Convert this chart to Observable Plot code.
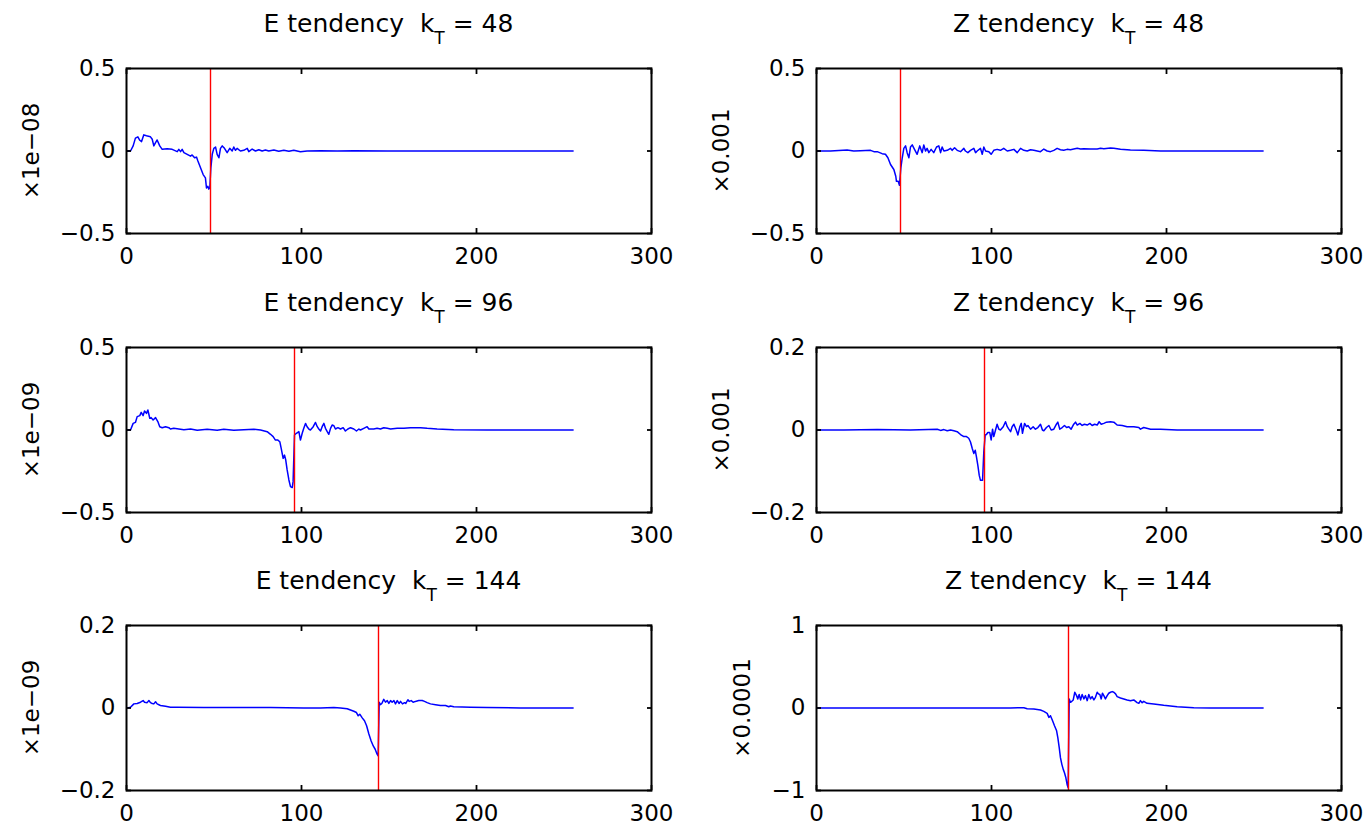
<!DOCTYPE html>
<html><head><meta charset="utf-8">
<script src="https://cdn.jsdelivr.net/npm/d3@7"></script>
<script src="https://cdn.jsdelivr.net/npm/@observablehq/plot@0.6"></script>
<style>
body{margin:0;background:#fff;}
#wrap{position:relative;width:1369px;height:830px;overflow:hidden;background:#fff;}
.panel{position:absolute;}
.panel svg{display:block;max-width:none;}
</style></head><body><div id="wrap"></div>
<script>
// ---- data (k, tendency in axis units) ----
const kTs = [48, 96, 144];
const quantities = ["E", "Z"];
const xDomain = [0, 300];
const xTicks = [0, 100, 200, 300];
const yLabelsE = ["×1e−08", "×1e−09", "×1e−09"];
const yLabelsZ = ["×0.001", "×0.001", "×0.0001"];
const yDomainsE = [[-0.5, 0.5], [-0.5, 0.5], [-0.2, 0.2]];
const yDomainsZ = [[-0.5, 0.5], [-0.2, 0.2], [-1, 1]];
const yTicksE = [[-0.5, 0, 0.5], [-0.5, 0, 0.5], [-0.2, 0, 0.2]];
const yTicksZ = [[-0.5, 0, 0.5], [-0.2, 0, 0.2], [-1, 0, 1]];

const e48 = [[0.5,0],[2.3,0],[3.8,.031],[5.1,.078],[6.5,.086],[7.6,.065],[8.6,.057],[9.9,.098],[11.4,.092],[13.7,.086],[14.7,.071],[15.6,.031],[16.6,.051],[17.5,.067],[19,.031],[20.4,.010],[23.2,.014],[26.1,.010],[29,-.004],[29.9,.010],[30.9,-.004],[31.8,.010],[32.8,-.010],[34.7,-.020],[36.6,-.031],[37.5,-.024],[38.9,-.041],[40,-.037],[40.8,-.061],[42.3,-.102],[43.8,-.143],[45.1,-.163],[45.7,-.224],[46.5,-.214],[47,-.231],[47.6,-.224],[48.2,-.102],[49,-.020],[49.9,.016],[50.9,.024],[51.8,-.020],[52.8,-.041],[53.7,.016],[54.7,.031],[56,.016],[57.5,-.010],[59,.016],[60.4,0],[61.3,.024],[62.3,.004],[63.2,.016],[65.1,0],[67,.004],[69,.016],[69.9,-.004],[71.8,.012],[73.7,0],[75.6,.008],[77.5,0],[79.4,.006],[81.3,0],[84.2,.006],[87,-.002],[89.9,.004],[92.8,-.002],[95.6,.004],[99.4,-.004],[103.2,0],[110.9,.002],[120.4,0],[129.9,.002],[149,0],[187,0],[255.2,0]];

const z48 = [[0.5,0],[8,0],[17.5,.006],[21.3,0],[25.1,.002],[30.9,.004],[32.8,-.004],[34.7,-.004],[37.5,-.016],[39.4,-.020],[40.8,-.041],[42.3,-.082],[44.2,-.112],[45.3,-.153],[45.7,-.184],[46.7,-.184],[47.4,-.208],[48.2,-.102],[49,-.041],[49.9,.016],[50.9,.031],[51.8,-.010],[52.8,-.041],[53.7,.024],[54.7,.037],[56,.010],[57.5,-.020],[59,.031],[60.4,-.010],[61.3,.037],[62.3,0],[63.2,.016],[64.2,-.010],[65.5,.010],[67,-.010],[68.6,.024],[69.9,.031],[70.9,-.010],[71.8,.024],[72.8,0],[74.7,.004],[76.6,.016],[77.5,.004],[78.9,.020],[80.4,.004],[82.3,-.004],[84.2,.016],[85.1,0],[86.5,-.010],[88,.004],[89.9,.016],[90.9,-.010],[91.8,0],[93.7,.016],[94.7,-.020],[95.6,.024],[96.6,0],[98.5,-.004],[99.8,-.020],[101.3,.004],[103.2,.010],[105.1,.004],[107,.016],[109,0],[110.9,.004],[112.8,.010],[114.7,-.010],[116.6,.016],[118.5,.004],[120.4,0],[122.3,.008],[124.2,.004],[128,-.004],[129.9,.012],[131.8,0],[133.7,-.004],[135.6,.004],[137.5,.016],[139.4,.008],[141.3,.004],[143.2,.010],[145.1,.008],[147,.012],[149,.016],[150.9,.012],[152.8,.014],[156.6,.012],[160.4,.012],[162.3,.016],[164.2,.014],[168,.018],[169.9,.016],[173.7,.010],[179.4,.006],[187,.004],[196.6,0],[255.2,0]];

const e96 = [[0.5,0],[2.3,0],[3.8,.040],[5.1,.046],[6.1,.081],[7.6,.087],[8.4,.107],[9.5,.087],[10.3,.115],[11.4,.101],[12.2,.121],[13.3,.071],[14.1,.075],[15.2,.061],[16.6,.075],[17.9,.051],[19,.020],[20.4,.014],[22.3,.020],[24.2,.014],[25.1,.006],[27,.010],[29.9,.006],[32.8,.002],[36.6,.006],[40.4,-.002],[46.1,.004],[51.8,-.002],[55.6,.004],[61.3,-.002],[67,.002],[72.8,.004],[76.6,0],[80.4,-.010],[82.3,-.026],[83.8,-.040],[85.1,-.061],[86.5,-.061],[87.6,-.071],[88.4,-.111],[89.5,-.172],[90.3,-.152],[91,-.182],[91.8,-.242],[92.8,-.303],[93.7,-.343],[94.7,-.349],[95.2,-.313],[96,-.030],[97.1,-.020],[98.5,-.010],[99.4,-.061],[100.4,-.020],[101.3,.010],[102.3,.040],[103.2,.020],[104.2,.006],[105.1,0],[106.7,.020],[108,.046],[109,.020],[109.9,.006],[110.9,-.006],[111.8,.020],[112.8,.040],[113.7,.010],[114.7,-.010],[115.6,-.026],[116.6,.010],[117.5,.030],[118.5,.026],[119.4,.006],[120.8,.014],[122.3,.006],[123.8,.014],[125.1,-.006],[126.5,.006],[128,.014],[129.9,.006],[131.4,-.006],[132.8,.006],[133.7,0],[135.6,.010],[137.5,.020],[138.5,.006],[139.8,.006],[141.3,.006],[143.2,.010],[145.1,.006],[147,.014],[149,.010],[150.9,.006],[154.7,.010],[158.5,.010],[162.3,.014],[168,.014],[171.8,.010],[177.5,.006],[187,.002],[206.1,0],[255.2,0]];

const z96 = [[0.5,0],[15.6,0],[34.7,.001],[53.7,0],[69,.002],[70.9,-.001],[72.8,.001],[74.7,-.002],[76.6,0],[78.5,-.002],[80.4,-.004],[82.3,-.011],[84.2,-.016],[85.7,-.016],[87,-.020],[88,-.029],[89,-.045],[89.9,-.057],[90.7,-.049],[91.4,-.065],[92.2,-.086],[93,-.110],[93.7,-.122],[94.9,-.122],[95.6,-.053],[96.4,-.012],[97.1,-.011],[97.9,-.006],[99,-.006],[99.8,-.024],[100.6,.002],[101.3,-.016],[102.3,0],[103.2,.014],[104.2,.002],[105.1,0],[106.7,.008],[108,.020],[109,.008],[109.9,.002],[110.9,-.004],[111.8,.008],[112.8,.014],[114.3,-.002],[115.1,-.012],[116.2,.008],[117,.016],[117.7,-.008],[118.9,.016],[120,.008],[120.8,.011],[122.3,.002],[123.8,.008],[125.1,.002],[126.5,.006],[128,.014],[129.1,0],[129.9,-.002],[131.4,.006],[132.8,.011],[134.1,0],[135.6,.002],[137.1,.014],[137.9,.019],[139,.002],[140.4,.006],[141.7,.011],[142.9,.006],[144.2,.008],[145.5,.002],[147,.014],[148,.019],[149,.012],[150.5,.016],[151.8,.011],[153.1,.014],[154.7,.012],[156.2,.016],[157.5,.011],[158.9,.014],[160.4,.012],[161.5,.020],[162.7,.014],[164.2,.016],[165.7,.019],[168,.020],[169.9,.019],[171.8,.012],[174.7,.011],[177.5,.008],[181.3,.008],[184.2,.006],[185.1,.002],[187,.006],[190.9,.002],[196.6,.002],[206.1,0],[255.2,0]];

const e144 = [[0.5,0],[2.3,.002],[4.2,.010],[6.1,.011],[8,.014],[9.5,.018],[10.3,.014],[11.8,.013],[12.8,.018],[13.7,.013],[14.7,.011],[15.6,.010],[16.6,.015],[17.5,.010],[19.4,.006],[22.3,.004],[25.1,.002],[29,.002],[44.2,.001],[63.2,.001],[82.3,.001],[101.3,0],[110.9,0],[118.5,.001],[122.3,0],[126.1,-.002],[128,-.005],[129.9,-.008],[131.4,-.011],[132.4,-.019],[133.3,-.015],[134.7,-.024],[136,-.031],[137.2,-.043],[138.5,-.063],[139.8,-.080],[141,-.092],[142.1,-.100],[143.2,-.112],[143.8,-.116],[144.4,.014],[145.1,.008],[145.9,.011],[147,.021],[148,.014],[149,.018],[149.9,.011],[150.9,.018],[151.8,.014],[152.8,.018],[153.7,.010],[154.7,.018],[155.8,.011],[156.6,.016],[157.7,.010],[158.9,.013],[159.6,.011],[160.8,.020],[161.5,.016],[162.7,.018],[163.8,.014],[165.1,.016],[167,.018],[169,.018],[170.3,.016],[171.8,.013],[173.7,.010],[176.6,.008],[179.4,.006],[182.3,.006],[184.2,.003],[185.1,.005],[187,.003],[196.6,.002],[206.1,.001],[225.1,0],[255.2,0]];

const z144 = [[0.5,0],[53.7,0],[91.8,0],[110.9,0],[118.5,.004],[120.4,-.008],[124.2,-.012],[128,-.024],[129.9,-.041],[131.8,-.065],[132.8,-.114],[133.7,-.093],[134.9,-.154],[136,-.215],[137.2,-.276],[137.9,-.358],[138.7,-.480],[139.4,-.602],[140.2,-.683],[141,-.744],[141.7,-.785],[142.5,-.846],[143.2,-.927],[143.8,-.967],[144.4,.110],[145.1,.069],[145.9,.081],[146.7,.098],[147.6,.191],[148.6,.150],[149.3,.110],[150.1,.163],[150.9,.098],[151.8,.163],[152.8,.110],[153.7,.150],[154.7,.089],[155.6,.163],[156.6,.110],[157.5,.138],[158.5,.098],[159.4,.130],[160.4,.191],[161.1,.171],[161.9,.163],[162.7,.110],[163.4,.179],[164.2,.150],[165.1,.110],[166.1,.150],[167,.179],[168,.191],[169,.199],[169.9,.191],[170.9,.171],[171.8,.138],[173.7,.122],[175.6,.110],[177.5,.098],[179.4,.089],[181.3,.098],[183.2,.065],[184.2,.057],[185.1,.089],[186.1,.065],[187,.081],[188.9,.057],[192.7,.049],[198.4,.033],[206.1,.016],[215.6,.004],[225.1,0],[255.2,0]];

const seriesE = [e48, e96, e144];
const seriesZ = [z48, z96, z144];

// ---- drawing ----
const wrap = document.getElementById("wrap");
const rowTops = [0, 278.5, 557];
const colLefts = [0, 684];
const fmt = d => d < 0 ? "\u2212" + Math.abs(d) : String(d);

function drawPanel(row, col) {
  const q = quantities[col];
  const kT = kTs[row];
  const data = col === 0 ? seriesE[row] : seriesZ[row];
  const yDom = col === 0 ? yDomainsE[row] : yDomainsZ[row];
  const yT = col === 0 ? yTicksE[row] : yTicksZ[row];
  const yLab = col === 0 ? yLabelsE[row] : yLabelsZ[row];
  const width = col === 0 ? 684 : 685;
  const ml = col === 0 ? 126 : 132;
  const mr = col === 0 ? 33 : 28;
  const mt = 68, mb = 40, h = 273;
  const labOffset = (col === 1 && row === 2) ? 74 : 95;
  const svg = Plot.plot({
    width, height: h, marginLeft: ml, marginRight: mr, marginTop: mt, marginBottom: mb,
    style: {fontFamily: "DejaVu Sans", fontSize: "23px", color: "#000", background: "#fff", overflow: "visible"},
    x: {domain: xDomain},
    y: {domain: yDom},
    marks: [
      Plot.line(data, {x: d => d[0], y: d => d[1], stroke: "#0000ff", strokeWidth: 1.5}),
      Plot.ruleX([kT], {stroke: "#ff0000", strokeWidth: 1.4}),
      Plot.frame({stroke: "#000", strokeWidth: 2}),
      Plot.axisX({ticks: xTicks, tickSize: -5, tickPadding: 19, tickFormat: fmt, label: null, strokeWidth: 1.8}),
      Plot.axisX({anchor: "top", ticks: xTicks, tickSize: -5, tickFormat: () => "", label: null, strokeWidth: 1.8}),
      Plot.axisY({ticks: yT, tickSize: -5, tickPadding: 16, tickFormat: fmt, label: null, strokeWidth: 1.8}),
      Plot.axisY({anchor: "right", ticks: yT, tickSize: -5, tickFormat: () => "", label: null, strokeWidth: 1.8}),
      Plot.text([yLab], {text: d => d, frameAnchor: "left", rotate: -90, dx: -labOffset, fontSize: 23, textAnchor: "middle", lineAnchor: "middle", fill: "#000"})
    ]
  });
  const pw = width - ml - mr;
  const t = d3.select(svg).append("text")
    .attr("x", ml + pw / 2).attr("y", mt - 36)
    .attr("text-anchor", "middle").attr("fill", "#000")
    .style("font-size", "25px").style("white-space", "pre").style("font-family", "DejaVu Sans");
  t.append("tspan").text(q + " tendency  k");
  t.append("tspan").attr("dy", 12).style("font-size", "17px").text("T");
  t.append("tspan").attr("dy", -12).text(" = " + kT);
  const div = document.createElement("div");
  div.className = "panel";
  div.style.left = colLefts[col] + "px";
  div.style.top = rowTops[row] + "px";
  div.style.width = width + "px";
  div.style.height = h + "px";
  div.appendChild(svg);
  wrap.appendChild(div);
}
for (let r = 0; r < 3; r++) for (let c = 0; c < 2; c++) drawPanel(r, c);
</script></body></html>
